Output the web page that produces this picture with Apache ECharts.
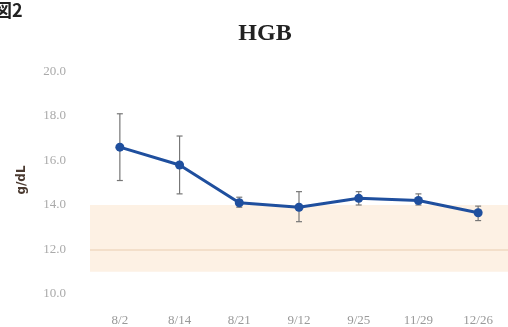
<!DOCTYPE html>
<html>
<head>
<meta charset="utf-8">
<script src="https://cdn.jsdelivr.net/npm/echarts@6/dist/echarts.min.js"></script>
<style>
  html, body { margin: 0; padding: 0; background: #ffffff; }
  #chart { width: 508px; height: 327px; }
</style>
</head>
<body>
<div id="chart"></div>
<script>
// HGB measurements per visit date (mean with error range)
const dates = ['8/2', '8/14', '8/21', '9/12', '9/25', '11/29', '12/26'];
const hgb = [16.6, 15.8, 14.1, 13.9, 14.3, 14.2, 13.65];
const hgbHigh = [18.1, 17.1, 14.35, 14.6, 14.6, 14.5, 13.95];
const hgbLow = [15.1, 14.5, 13.9, 13.25, 14.0, 14.0, 13.3];

// reference range shading and its inner guide line
const refLow = 11;
const refHigh = 14;
const refLine = 12;

const yTicks = [10, 12, 14, 16, 18, 20];

const errData = dates.map((d, i) => [i, hgbLow[i], hgbHigh[i]]);

const chart = echarts.init(document.getElementById('chart'), null, { renderer: 'canvas' });

chart.setOption({
  animation: false,
  backgroundColor: '#ffffff',
  grid: { left: 90, top: 71.5, width: 430, height: 226.5, containLabel: false },
  graphic: [
    {
      type: 'text', left: -6, top: 1,
      style: { text: '図2', font: 'bold 18px "Noto Sans CJK JP", sans-serif', fill: '#222' }
    },
    {
      type: 'text', x: 22, y: 180, rotation: Math.PI / 2,
      style: {
        text: 'g/dL', font: 'bold 12px "DejaVu Sans", sans-serif', fill: '#4a3a30',
        align: 'center', verticalAlign: 'middle'
      }
    }
  ],
  title: {
    text: 'HGB',
    left: 260, top: 17,
    textAlign: 'center',
    textStyle: { fontFamily: '"Liberation Serif", serif', fontWeight: 'bold', fontSize: 24, color: '#222' }
  },
  xAxis: {
    type: 'category',
    data: dates,
    boundaryGap: true,
    axisLine: { show: false },
    axisTick: { show: false },
    axisLabel: {
      margin: 20, color: '#999', fontFamily: '"Liberation Serif", serif', fontSize: 13
    },
    splitLine: { show: false }
  },
  yAxis: {
    type: 'value',
    min: yTicks[0], max: yTicks[yTicks.length - 1], interval: 2,
    axisLine: { show: false },
    axisTick: { show: false },
    splitLine: { show: false },
    axisLabel: {
      margin: 24, color: '#aaa', fontFamily: '"Liberation Serif", serif', fontSize: 13,
      formatter: v => v.toFixed(1)
    }
  },
  series: [
    {
      type: 'line',
      data: hgb,
      z: 3,
      symbol: 'circle',
      symbolSize: 9,
      lineStyle: { color: '#1f4f9e', width: 3 },
      itemStyle: { color: '#1f4f9e' },
      markArea: {
        silent: true,
        itemStyle: { color: '#fdf1e4' },
        data: [[{ yAxis: refLow }, { yAxis: refHigh }]]
      },
      markLine: {
        silent: true,
        symbol: 'none',
        label: { show: false },
        lineStyle: { color: '#efd9c2', width: 1.5, type: 'solid' },
        data: [{ yAxis: refLine }]
      }
    },
    {
      type: 'custom',
      z: 2,
      data: errData,
      renderItem: function (params, api) {
        const x = api.coord([api.value(0), api.value(1)])[0];
        const lo = api.coord([api.value(0), api.value(1)])[1];
        const hi = api.coord([api.value(0), api.value(2)])[1];
        const cap = 3;
        const style = { stroke: '#777', lineWidth: 1.2 };
        return {
          type: 'group',
          children: [
            { type: 'line', shape: { x1: x, y1: hi, x2: x, y2: lo }, style },
            { type: 'line', shape: { x1: x - cap, y1: hi, x2: x + cap, y2: hi }, style },
            { type: 'line', shape: { x1: x - cap, y1: lo, x2: x + cap, y2: lo }, style }
          ]
        };
      }
    }
  ]
});
</script>
</body>
</html>
